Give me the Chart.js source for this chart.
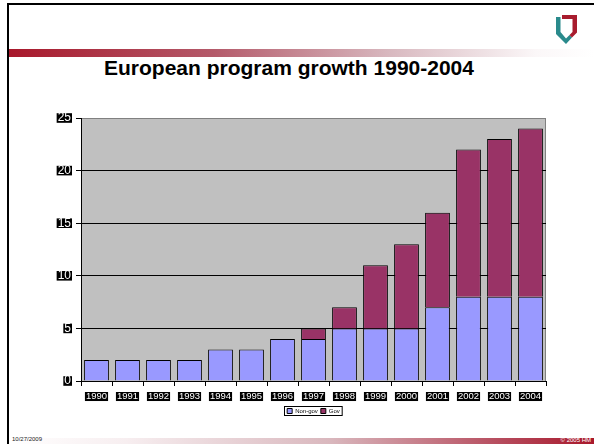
<!DOCTYPE html>
<html>
<head>
<meta charset="utf-8">
<script src="https://cdn.jsdelivr.net/npm/chart.js@4"></script>
<style>
  body { margin: 0; width: 594px; height: 444px; background: #fff; position: relative; overflow: hidden; font-family: Arial, "Liberation Sans", sans-serif; }
  .top-line { position: absolute; left: 7px; top: 3px; width: 590px; height: 2px; background: #000; }
  .left-line { position: absolute; left: 7px; top: 3px; width: 2px; height: 444px; background: #000; }
  .band { position: absolute; left: 9px; top: 49px; width: 585px; height: 8px;
          background: linear-gradient(to right, #a8182b 0%, #b45a6a 35%, #d8b8bf 65%, #fbf7f8 90%, #fff 100%); }
  .band2 { position: absolute; left: 9px; top: 438px; width: 585px; height: 6px;
           background: linear-gradient(to right, #fff 0%, #f7eef0 20%, #d9b7bd 55%, #b5485a 85%, #a8182b 100%); }
  .title { position: absolute; left: 0; width: 578px; top: 56px; text-align: center; font-weight: bold; font-size: 21px; color: #000; }
  .date { position: absolute; left: 12px; top: 436px; font-size: 6px; color: #222; }
  .copy { position: absolute; right: 3px; top: 437px; font-size: 6px; color: #fff; }
  .logo { position: absolute; left: 556px; top: 15px; }
  #wrap { position: absolute; left: 40px; top: 100px; width: 547px; height: 334px; }
</style>
</head>
<body>
<div class="top-line"></div>
<div class="left-line"></div>
<div class="band"></div>
<div class="band2"></div>
<svg class="logo" width="21" height="30" viewBox="0 0 21 30">
  <path d="M0,2 L4.5,2 L4.5,17 L10,23.5 L13.5,20 L16,22.5 L10,29 L0,19 Z" fill="#2a8a8c"/>
  <path d="M6,0 L21,0 L21,17.5 L16,22.5 L13.5,20 L16.5,17 L16.5,4 L6,4 Z" fill="#a81c2e"/>
</svg>
<div class="title">European program growth 1990-2004</div>
<div class="date">10/27/2009</div>
<div class="copy">© 2005 HM</div>
<div id="wrap"><canvas id="myChart"></canvas></div>
<script>
var years = ['1990','1991','1992','1993','1994','1995','1996','1997','1998','1999','2000','2001','2002','2003','2004'];
var nonGov = [2, 2, 2, 2, 3, 3, 4, 4, 5, 5, 5, 7, 8, 8, 8];
var gov = [0, 0, 0, 0, 0, 0, 0, 1, 2, 6, 8, 9, 14, 15, 16];
var yTicks = [0, 5, 10, 15, 20, 25];

var plotBg = {
    id: 'plotBg',
    afterLayout: function(chart) {
        // centre the legend under the plot, not under the whole canvas
        var lg = chart.legend, a = chart.chartArea;
        if (lg) {
            var w = lg.right - lg.left;
            lg.left = (a.left + a.right) / 2 - w / 2;
            lg.right = lg.left + w;
        }
    },
    beforeDraw: function(chart) {
        var a = chart.chartArea, c = chart.ctx;
        c.save();
        c.fillStyle = '#c0c0c0';
        c.fillRect(a.left, a.top, a.right - a.left, a.bottom - a.top);
        c.strokeStyle = '#808080';
        c.lineWidth = 1;
        c.beginPath();
        c.moveTo(a.left, a.top + 0.5);
        c.lineTo(a.right - 0.5, a.top + 0.5);
        c.lineTo(a.right - 0.5, a.bottom);
        c.stroke();
        c.restore();
    }
};

var legendBox = {
    id: 'legendBox',
    afterDraw: function(chart) {
        var boxes = chart.legend.legendHitBoxes;
        if (!boxes || !boxes.length) return;
        var l = 1e9, r = -1e9, t = 1e9, b = -1e9;
        for (var i = 0; i < boxes.length; i++) {
            l = Math.min(l, boxes[i].left);
            r = Math.max(r, boxes[i].left + boxes[i].width);
            t = Math.min(t, boxes[i].top);
            b = Math.max(b, boxes[i].top + boxes[i].height);
        }
        var c = chart.ctx;
        c.save();
        c.strokeStyle = '#000';
        c.lineWidth = 1;
        c.strokeRect(Math.round(l) - 2.5, Math.round(t) - 1.5, r - l + 5, b - t + 3);
        c.restore();
    }
};

var ctx = document.getElementById('myChart');

new Chart(ctx, {
    type: 'bar',
    data: {
        labels: years,
        datasets: [{
            label: 'Non-gov',
            data: nonGov,
            backgroundColor: '#9999ff',
            borderColor: '#000',
            borderWidth: 1,
            barPercentage: 0.8,
            categoryPercentage: 1
        }, {
            label: 'Gov',
            data: gov,
            backgroundColor: '#993366',
            borderColor: '#000',
            borderWidth: 1,
            barPercentage: 0.8,
            categoryPercentage: 1
        }]
    },
    plugins: [plotBg, legendBox],
    options: {
        animation: false,
        responsive: true,
        maintainAspectRatio: false,
        layout: { padding: { top: 18, right: 41, bottom: 10, left: 0 } },
        plugins: {
            tooltip: { enabled: false },
            legend: {
                position: 'bottom',
                labels: {
                    font: { size: 6, family: 'Arial' },
                    color: '#000',
                    boxWidth: 5,
                    boxHeight: 5,
                    padding: 3
                }
            }
        },
        scales: {
            x: {
                stacked: true,
                grid: { display: true, drawOnChartArea: false, drawTicks: true, tickLength: 5, color: '#000' },
                border: { color: '#000', width: 1 },
                ticks: {
                    color: '#fff',
                    font: { size: 9.5, family: 'Arial', lineHeight: 0.95 },
                    padding: 6,
                    maxRotation: 0,
                    autoSkip: false,
                    showLabelBackdrop: true,
                    backdropColor: '#000',
                    backdropPadding: { left: 1, right: 1, top: 0, bottom: 0 }
                },
                afterFit: function(scale) { scale.height = 24; }
            },
            y: {
                stacked: true,
                min: 0,
                max: 25,
                afterBuildTicks: function(scale) {
                    scale.ticks = yTicks.map(function(v) { return { value: v }; });
                },
                grid: {
                    color: function(c) { return c.tick && c.tick.value === 25 ? '#808080' : '#000'; },
                    tickLength: 5,
                    tickColor: '#000'
                },
                border: { color: '#000', width: 1 },
                ticks: {
                    color: '#fff',
                    font: { size: 12, family: 'Arial', lineHeight: 0.8 },
                    padding: 5,
                    showLabelBackdrop: true,
                    backdropColor: '#000',
                    backdropPadding: { left: 1, right: 1, top: 0, bottom: 0 }
                },
                afterFit: function(scale) { scale.width = 41; }
            }
        }
    }
});
</script>
</body>
</html>
